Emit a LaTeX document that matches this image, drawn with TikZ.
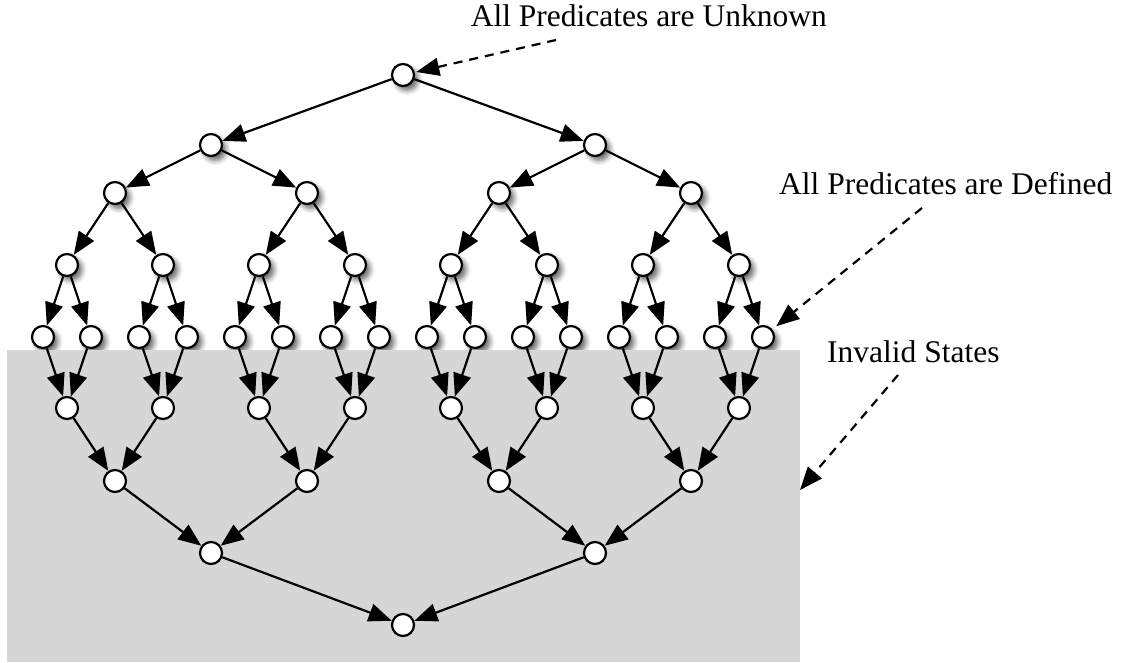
\documentclass[tikz,border=0pt]{standalone}
\usepackage{fontspec}
\setmainfont{Liberation Serif}
\usetikzlibrary{arrows.meta,shadows.blur}
\definecolor{invgray}{RGB}{214,214,214}
\tikzset{
  st/.style={circle,draw=black,fill=white,line width=2.2pt,minimum size=22pt,inner sep=0pt},
  sh/.style={blur shadow={shadow xshift=4pt,shadow yshift=-4.5pt,shadow blur radius=5pt,shadow opacity=60}},
  ar/.style={line width=2.2pt,-{Triangle[length=23pt,width=18pt]}},
  dar/.style={line width=2.2pt,dash pattern=on 9pt off 7pt,-{Triangle[length=23pt,width=18pt]}},
  lab/.style={font=\fontsize{31.5}{36}\selectfont,inner sep=0pt}
}
\begin{document}
\begin{tikzpicture}[x=1pt,y=-1pt]
\useasboundingbox (0,0) rectangle (1124,662);
% upper half (with shadows)
\node[st,sh] (a) at (403,75) {};
\node[st,sh] (b1) at (211,145) {};
\node[st,sh] (b2) at (595,145) {};
\foreach \i in {1,...,4} \node[st,sh] (c\i) at ({115+192*(\i-1)},193) {};
\foreach \i in {1,...,8} \node[st,sh] (d\i) at ({67+96*(\i-1)},265) {};
\foreach \i in {1,...,16} \node[st,sh] (e\i) at ({43+48*(\i-1)},337) {};
% invalid states region
\fill[invgray] (7,350) rectangle (800,662);
% lower half
\foreach \i in {1,...,8} \node[st] (f\i) at ({67+96*(\i-1)},408) {};
\foreach \i in {1,...,4} \node[st] (g\i) at ({115+192*(\i-1)},481) {};
\node[st] (h1) at (211,553) {};
\node[st] (h2) at (595,553) {};
\node[st] (k) at (403,625) {};
% edges
\draw[ar] (a) -- (b1);
\draw[ar] (a) -- (b2);
\draw[ar] (b1) -- (c1);
\draw[ar] (b1) -- (c2);
\draw[ar] (b2) -- (c3);
\draw[ar] (b2) -- (c4);
\foreach \i in {1,...,4} {
  \pgfmathtruncatemacro\p{2*\i-1}
  \pgfmathtruncatemacro\q{2*\i}
  \draw[ar] (c\i) -- (d\p);
  \draw[ar] (c\i) -- (d\q);
  \draw[ar] (f\p) -- (g\i);
  \draw[ar] (f\q) -- (g\i);
}
\foreach \i in {1,...,8} {
  \pgfmathtruncatemacro\p{2*\i-1}
  \pgfmathtruncatemacro\q{2*\i}
  \draw[ar] (d\i) -- (e\p);
  \draw[ar] (d\i) -- (e\q);
  \draw[ar] (e\p) -- (f\i);
  \draw[ar] (e\q) -- (f\i);
}
\draw[ar] (g1) -- (h1);
\draw[ar] (g2) -- (h1);
\draw[ar] (g3) -- (h2);
\draw[ar] (g4) -- (h2);
\draw[ar] (h1) -- (k);
\draw[ar] (h2) -- (k);
% labels
\node[lab,anchor=base east] (lu) at (827,26) {All Predicates are Unknown};
\node[lab,anchor=base west] (ld) at (779,194) {All Predicates are Defined};
\node[lab,anchor=base west] (li) at (827,362) {Invalid States};
\coordinate (su) at (556,40);
\coordinate (sd) at (922,208);
\coordinate (si) at (898,375);
\coordinate (inv) at (800,490);
\draw[dar,shorten >=1.5pt] (su) -- (a);
\draw[dar,shorten >=5pt] (sd) -- (e16);
\draw[dar] (si) -- (inv);
\end{tikzpicture}
\end{document}
